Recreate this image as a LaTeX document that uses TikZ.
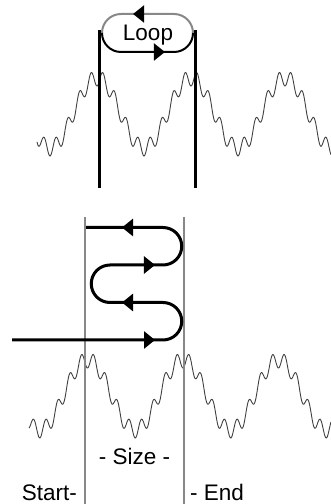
\documentclass[tikz,border=0pt]{standalone}
\usepackage{fontspec}
\setmainfont{Liberation Sans}
\usetikzlibrary{arrows.meta,decorations.markings}
\definecolor{mGray}{HTML}{888888}
\definecolor{mWave}{HTML}{404040}
\tikzset{
  cut/.style={line width=3pt, black},
  bound/.style={line width=2.7pt, mGray},
  wave/.style={line width=0.9pt, mWave},
  lap/.style={line width=2pt},
  walk/.style={line width=3pt, black},
  lbl/.style={font=\fontsize{22.5}{27}\selectfont, inner sep=0pt},
  head/.tip={Triangle[length=11pt,width=17pt,color=black]},
}

\begin{document}
\begin{tikzpicture}[x=1pt,y=1pt]
    \useasboundingbox (0,0) rectangle (331,504);
    % top: one loop over the size
    \coordinate (ca) at (99,474);  \coordinate (cb) at (99,316);
    \coordinate (cc) at (195,474); \coordinate (cd) at (195,316);
    \draw[wave] plot[domain=37:331, samples=500]
      (\x, {391+35*cos((\x-97)*3.8298)-8*cos((\x-97)*30.638)});
    \draw[cut] (ca) -- (cb);
    \draw[cut] (cc) -- (cd);
    \coordinate (lw) at (102,471); \coordinate (le) at (193,471);
    \draw[lap, mGray, postaction={decorate}, decoration={markings,
      mark=at position 70.8pt with {\arrow{head}}}]
      (le) arc[start angle=0, end angle=90, radius=19pt] -- (121,490)
      arc[start angle=90, end angle=180, radius=19pt];
    \draw[lap, black, postaction={decorate}, decoration={markings,
      mark=at position 73.8pt with {\arrow{head}}}]
      (lw) arc[start angle=180, end angle=270, radius=19pt] -- (174,452)
      arc[start angle=270, end angle=360, radius=19pt];
    \node[lbl, anchor=base] (loop) at (148,463) {Loop};
    % bottom: walking back and forth
    \draw[wave] plot[domain=29:331, samples=500]
      (\x, {109+35*cos((\x-87.5)*3.7696)-8*cos((\x-87.5)*30.157)});
    \coordinate (sa) at (85,287);  \coordinate (sb) at (85,0);
    \coordinate (sc) at (184,287); \coordinate (sd) at (184,0);
    \draw[bound] (sa) -- (sb);
    \draw[bound] (sc) -- (sd);
    \coordinate (w0) at (12,164);
    \coordinate (w1) at (86,276.5);
    \draw[walk, postaction={decorate}, decoration={markings,
      mark=at position 143pt with {\arrow{head}},
      mark=at position 250.9pt with {\arrow{head}},
      mark=at position 366.8pt with {\arrow{head}},
      mark=at position 474.7pt with {\arrow{head}}}]
      (w0) -- (163,164) arc[start angle=-90, end angle=90, radius=18.75pt]
      -- (110,201.5) arc[start angle=270, end angle=90, radius=18.75pt]
      -- (163,239) arc[start angle=-90, end angle=90, radius=18.75pt]
      -- (w1);
    \node[lbl, anchor=base] (size) at (134.5,39) {- Size -};
    \node[lbl, anchor=base east] (start) at (77,4) {Start-};
    \node[lbl, anchor=base west] (end) at (190,4) {- End};
  \end{tikzpicture}
\end{document}
